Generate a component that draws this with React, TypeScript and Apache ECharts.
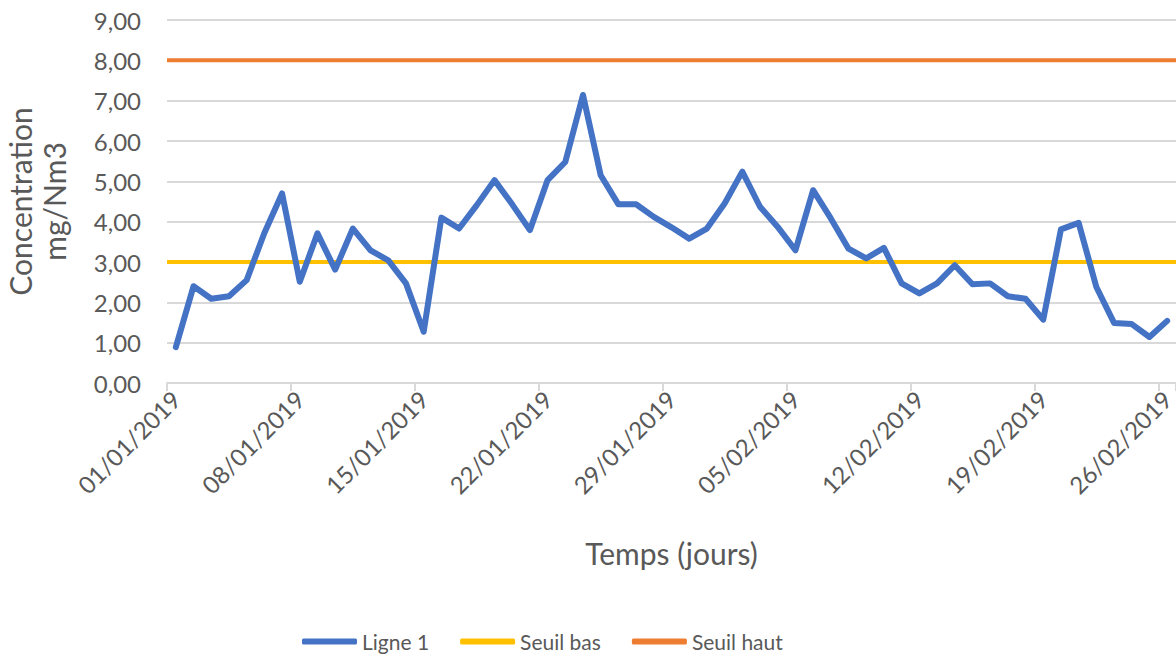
import React, { useEffect, useRef } from "react";
import * as echarts from "echarts";

const dates: string[] = (() => {
  const out: string[] = [];
  for (let d = 1; d <= 31; d++) out.push(`${String(d).padStart(2, "0")}/01/2019`);
  for (let d = 1; d <= 26; d++) out.push(`${String(d).padStart(2, "0")}/02/2019`);
  return out;
})();

const ligne1: number[] = [
  0.89, 2.4, 2.09, 2.15, 2.55, 3.72, 4.7, 2.51, 3.71, 2.81,
  3.83, 3.29, 3.04, 2.47, 1.27, 4.1, 3.83, 4.41, 5.03, 4.43,
  3.79, 5.03, 5.48, 7.14, 5.15, 4.43, 4.43, 4.12, 3.86, 3.58,
  3.83, 4.45, 5.24, 4.37, 3.87, 3.29, 4.78, 4.08, 3.33, 3.09,
  3.35, 2.47, 2.22, 2.47, 2.92, 2.45, 2.47, 2.15, 2.09, 1.57,
  3.81, 3.97, 2.38, 1.49, 1.46, 1.14, 1.54,
];

const seuilBas = 3;
const seuilHaut = 8;

const yTicks = { min: 0, max: 9, interval: 1 };

const FONT = "Lato";
const GRAY = "#595959";

export default function App() {
  const ref = useRef<HTMLDivElement>(null);
  useEffect(() => {
    if (!ref.current) return;
    const chart = echarts.init(ref.current, undefined, { renderer: "svg" });
    const n = dates.length;
    chart.setOption({
      animation: false,
      textStyle: { fontFamily: FONT, color: GRAY },
      grid: { left: 167, right: 0, top: 20, bottom: 274, containLabel: false, outerBoundsMode: "none" },
      legend: {
        left: 297,
        top: 626,
        itemWidth: 55,
        itemHeight: 6,
        itemGap: 31,
        icon: "roundRect",
        textStyle: { fontFamily: FONT, fontSize: 21, color: GRAY },
        data: ["Ligne 1", "Seuil bas", "Seuil haut"],
      },
      xAxis: [
        {
          type: "category",
          data: dates,
          boundaryGap: true,
          name: "Temps (jours)",
          nameLocation: "middle",
          nameGap: 155,
          nameTextStyle: { fontFamily: FONT, fontSize: 30, color: GRAY },
          axisLine: { lineStyle: { color: "#D9D9D9", width: 2 } },
          axisTick: { show: true, interval: 6, length: 8, lineStyle: { color: "#D9D9D9", width: 2 } },
          axisLabel: { interval: 6, rotate: 45, fontSize: 24, color: GRAY, fontFamily: FONT, margin: 12 },
          splitLine: { show: false },
        },
        { type: "value", min: 0, max: n, show: false },
      ],
      yAxis: {
        type: "value",
        min: yTicks.min,
        max: yTicks.max,
        interval: yTicks.interval,
        name: "Concentration\nmg/Nm3",
        nameLocation: "middle",
        nameRotate: 90,
        nameGap: 96,
        nameTextStyle: { fontFamily: FONT, fontSize: 30, color: GRAY, lineHeight: 34 },
        axisLine: { show: false },
        axisTick: { show: false },
        axisLabel: {
          fontSize: 24,
          color: GRAY,
          fontFamily: FONT,
          margin: 26,
          formatter: (v: number) => v.toFixed(2).replace(".", ","),
        },
        splitLine: { lineStyle: { color: "#D9D9D9", width: 2 } },
      },
      series: [
        {
          name: "Ligne 1",
          type: "line",
          data: ligne1,
          showSymbol: false,
          symbol: "none",
          color: "#4472C4",
          lineStyle: { width: 6, color: "#4472C4", cap: "round", join: "round" },
          z: 3,
        },
        {
          name: "Seuil bas",
          type: "line",
          xAxisIndex: 1,
          data: [[0, seuilBas], [n, seuilBas]],
          showSymbol: false,
          symbol: "none",
          color: "#FFC000",
          lineStyle: { width: 4, color: "#FFC000" },
          z: 2,
        },
        {
          name: "Seuil haut",
          type: "line",
          xAxisIndex: 1,
          data: [[0, seuilHaut], [n, seuilHaut]],
          showSymbol: false,
          symbol: "none",
          color: "#ED7D31",
          lineStyle: { width: 4, color: "#ED7D31" },
          z: 2,
        },
      ],
    });
    return () => chart.dispose();
  }, []);
  return (
    <div
      ref={ref}
      style={{ position: "fixed", left: 0, top: 0, width: 1176, height: 657, background: "#fff" }}
    />
  );
}
